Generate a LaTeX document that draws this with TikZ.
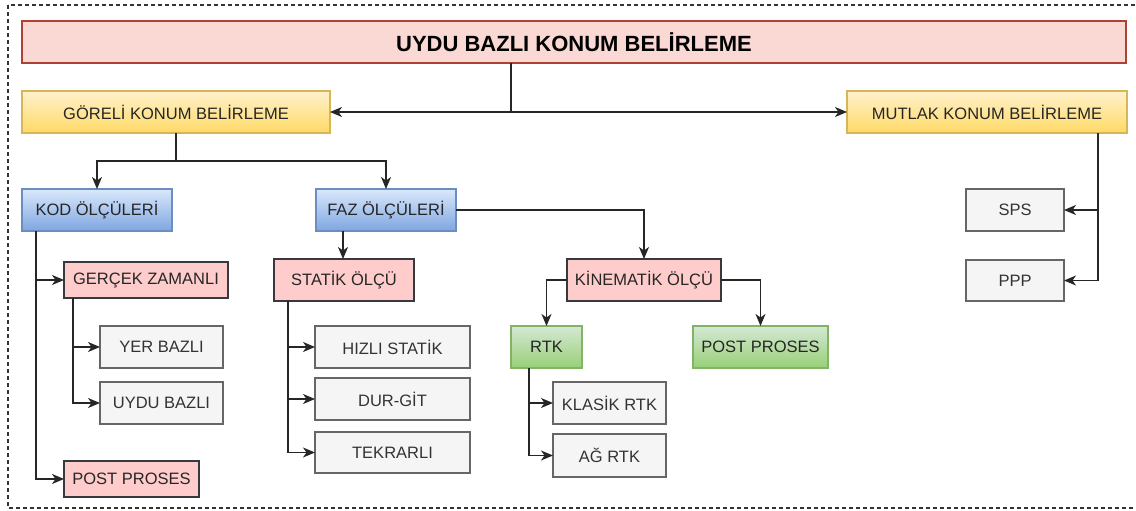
\documentclass[tikz,border=0pt]{standalone}
\usepackage{fontspec}
\setmainfont{Liberation Sans}
\usetikzlibrary{arrows.meta}
\definecolor{titlefill}{HTML}{FAD9D5}
\definecolor{titledraw}{HTML}{AE4132}
\definecolor{ytop}{HTML}{FFF2CC}
\definecolor{ybot}{HTML}{FFD966}
\definecolor{ydraw}{HTML}{D6B656}
\definecolor{btop}{HTML}{DAE8FC}
\definecolor{bbot}{HTML}{7EA6E0}
\definecolor{bdraw}{HTML}{6C8EBF}
\definecolor{pfill}{HTML}{FFCCCC}
\definecolor{pdraw}{HTML}{36393D}
\definecolor{gtop}{HTML}{D5E8D4}
\definecolor{gbot}{HTML}{97D077}
\definecolor{gdraw}{HTML}{82B366}
\definecolor{grfill}{HTML}{F5F5F5}
\definecolor{grdraw}{HTML}{666666}
\definecolor{grtext}{HTML}{333333}
\tikzset{
  box/.style={anchor=north west, inner sep=0pt, outer sep=0pt, line width=1.1pt,
    font=\fontsize{16.5}{19}\selectfont},
  titlebox/.style={box, fill=titlefill, draw=titledraw, font=\fontsize{22}{26}\selectfont\bfseries},
  ybox/.style={box, draw=ydraw, top color=ytop, bottom color=ybot, text=black!85},
  bbox/.style={box, draw=bdraw, top color=btop, bottom color=bbot, text=black!85},
  pbox/.style={box, fill=pfill, draw=pdraw, text=black!85},
  gbox/.style={box, draw=gdraw, top color=gtop, bottom color=gbot, text=black!85},
  grbox/.style={box, fill=grfill, draw=grdraw, text=grtext},
  arr/.style={-{Stealth[length=12pt,width=10pt,inset=3.5pt]}, line width=1.3pt, black!85},
  conn/.style={line width=1.3pt, black!85}
}
\begin{document}
\begin{tikzpicture}[x=1pt,y=-1pt]
\useasboundingbox (0,0) rectangle (1136,511);
\clip (0,0) rectangle (1136,511);
\draw[dash pattern=on 4pt off 3pt, line width=1.2pt, black!80] (8,5) rectangle (1150,508);

\node[titlebox, minimum width=1104pt, minimum height=42pt] (title) at (22,21) {UYDU BAZLI KONUM BELİRLEME};
\node[ybox, minimum width=308pt, minimum height=42pt] (gor) at (22,91) {GÖRELİ KONUM BELİRLEME};
\node[ybox, minimum width=280pt, minimum height=42pt] (mut) at (847,91) {MUTLAK KONUM BELİRLEME};
\node[bbox, minimum width=150pt, minimum height=42pt] (kod) at (22,189) {KOD ÖLÇÜLERİ};
\node[bbox, minimum width=140pt, minimum height=42pt] (faz) at (316,189) {FAZ ÖLÇÜLERİ};
\node[pbox, minimum width=164pt, minimum height=36pt] (ger) at (64,262) {GERÇEK ZAMANLI};
\node[grbox, minimum width=123pt, minimum height=42pt] (yer) at (100,326) {YER BAZLI};
\node[grbox, minimum width=123pt, minimum height=42pt] (uyb) at (100,382) {UYDU BAZLI};
\node[pbox, minimum width=135pt, minimum height=36pt] (pp1) at (64,461) {POST PROSES};
\node[pbox, minimum width=140pt, minimum height=42pt] (sta) at (274,259) {STATİK ÖLÇÜ};
\node[grbox, minimum width=155pt, minimum height=42pt] (hiz) at (315,326) {HIZLI STATİK};
\node[grbox, minimum width=155pt, minimum height=42pt] (dur) at (315,378) {DUR-GİT};
\node[grbox, minimum width=155pt, minimum height=41pt] (tek) at (315,432) {TEKRARLI};
\node[pbox, minimum width=154pt, minimum height=42pt] (kin) at (567,259) {KİNEMATİK ÖLÇÜ};
\node[gbox, minimum width=71pt, minimum height=42pt] (rtk) at (511,326) {RTK};
\node[gbox, minimum width=135pt, minimum height=42pt] (pp2) at (693,326) {POST PROSES};
\node[grbox, minimum width=113pt, minimum height=42pt] (kla) at (553,382) {KLASİK RTK};
\node[grbox, minimum width=113pt, minimum height=43pt] (agr) at (553,434) {AĞ RTK};
\node[grbox, minimum width=98pt, minimum height=42pt] (sps) at (966,189) {SPS};
\node[grbox, minimum width=98pt, minimum height=41pt] (ppp) at (966,260) {PPP};

% title split
\coordinate (tb) at ([xshift=489pt]title.south west);
\draw[arr] (tb) |- (gor.east);
\draw[arr] (tb) |- (mut.west);

% relative
\draw[arr] (gor.south) -- ++(0,28) -| (kod.north);
\draw[arr] (gor.south) -- ++(0,28) -| (faz.north);

% kod
\coordinate (k1) at ([xshift=14pt]kod.south west);
\draw[arr] (k1) |- (ger.west);
\draw[arr] (k1) |- (pp1.west);
\coordinate (g1) at ([xshift=9pt]ger.south west);
\draw[arr] (g1) |- (yer.west);
\draw[arr] (g1) |- (uyb.west);

% faz
\coordinate (f1) at ([xshift=27pt]faz.south west);
\draw[arr] (f1) -- (f1 |- sta.north);
\draw[arr] (faz.east) -| (kin.north);
\coordinate (s1) at ([xshift=14pt]sta.south west);
\draw[arr] (s1) |- (hiz.west);
\draw[arr] (s1) |- (dur.west);
\draw[arr] (s1) |- (tek.west);

% kinematik
\draw[arr] (kin.west) -| (rtk.north);
\draw[arr] (kin.east) -| (pp2.north);
\coordinate (r1) at ([xshift=18pt]rtk.south west);
\draw[arr] (r1) |- (kla.west);
\draw[arr] (r1) |- (agr.west);

% mutlak
\coordinate (m1) at ([xshift=-29pt]mut.south east);
\draw[arr] (m1) |- (sps.east);
\draw[arr] (m1) |- (ppp.east);
\end{tikzpicture}
\end{document}
